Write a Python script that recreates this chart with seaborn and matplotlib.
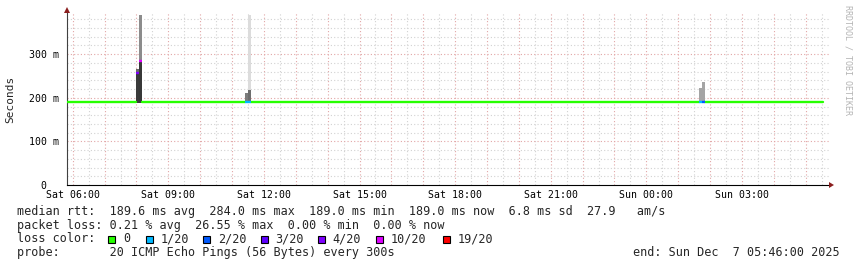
import numpy as np
import pandas as pd
import matplotlib
matplotlib.use("Agg")
import matplotlib.pyplot as plt
import seaborn as sns
from matplotlib.patches import Rectangle, Polygon

# ---------------- data ----------------
# minutes since Sat 00:00
seg_start_min = [346, 490, 695, 1550]
seg_end_min = [480, 685, 1540, 1772]
seg_rtt_ms = [189.4, 189.4, 189.4, 189.4]

spike_min = [480, 485, 685, 690, 1540, 1545]
spike_median_ms = [258, 285, 190, 190, 190, 190]
spike_loss = ["4/20", "10/20", "1/20", "1/20", "1/20", "2/20"]
smoke_lo_ms = [189, 189, 189, 189, 189, 189]
smoke_mid_ms = [258, 285, 210, 218, 222, 236]
smoke_hi_ms = [266, 390, 210, 390, 222, 236]
smoke_dense_col = ["#3a3a3a", "#383838", "#7c7c7c", "#6e6e6e", "#a4a4a4", "#a4a4a4"]
smoke_sparse_col = ["#6a6a6a", "#8c8c8c", "#7c7c7c", "#dcdcdc", "#a4a4a4", "#a4a4a4"]

loss_labels = ["0", "1/20", "2/20", "3/20", "4/20", "10/20", "19/20"]
loss_colors = ["#26ff00", "#00b8ff", "#0059ff", "#5e00ff", "#7e00ff", "#dd00ff", "#ff0000"]

xtick_hours = [6, 9, 12, 15, 18, 21, 24, 27]
xtick_labels = ["Sat 06:00", "Sat 09:00", "Sat 12:00", "Sat 15:00",
                "Sat 18:00", "Sat 21:00", "Sun 00:00", "Sun 03:00"]
ytick_vals = [0, 100, 200, 300]
ytick_labels = ["0", "100 m", "200 m", "300 m"]

legend_lines = [
    "median rtt:  189.6 ms avg  284.0 ms max  189.0 ms min  189.0 ms now  6.8 ms sd  27.9   am/s",
    "packet loss: 0.21 % avg  26.55 % max  0.00 % min  0.00 % now",
    "loss color:",
    "probe:       20 ICMP Echo Pings (56 Bytes) every 300s",
]
end_text = "end: Sun Dec  7 05:46:00 2025"
watermark = "RRDTOOL / TOBI OETIKER"

# ---------------- figure ----------------
W, H = 857, 267
sns.set_theme(style="white")
plt.rcParams['font.family'] = ['DejaVu Sans Mono', 'DejaVu Sans']

fig = plt.figure(figsize=(W / 100, H / 100), dpi=100, facecolor='white')
L, R, T, B = 67, 830, 12, 185
ax = fig.add_axes([L / W, 1 - B / H, (R - L) / W, (B - T) / H])
ax.set_facecolor('white')
x0 = 6 - 5.7 / 31.87
x1 = x0 + (R - L) / 31.87
ax.set_xlim(x0, x1)
ax.set_ylim(0, (B - T) / 0.436)

minor_c = '#d2d2d2'
major_c = '#e2a6a6'
dot = (0, (1, 2))
h = np.ceil(x0 * 2) / 2
while h < x1:
    is_major = abs(h - round(h)) < 1e-6
    ax.axvline(h, color=major_c if is_major else minor_c, ls=dot, lw=0.8, zorder=0.5)
    h += 0.5
for v in range(20, 400, 20):
    ax.axhline(v, color=major_c if v % 100 == 0 else minor_c, ls=dot, lw=0.8, zorder=0.5)

# smoke bars
t_h = np.array(spike_min) / 60.0
w = 5 / 60.0
ax.bar(t_h, np.array(smoke_hi_ms) - np.array(smoke_mid_ms), bottom=smoke_mid_ms,
       width=w, align='edge', color=smoke_sparse_col, linewidth=0, zorder=2)
ax.bar(t_h, np.array(smoke_mid_ms) - np.array(smoke_lo_ms), bottom=smoke_lo_ms,
       width=w, align='edge', color=smoke_dense_col, linewidth=0, zorder=2)

# median line segments (loss 0 -> green)
rows = []
for i, (s, e, r) in enumerate(zip(seg_start_min, seg_end_min, seg_rtt_ms)):
    rows.append({"t": s / 60.0, "rtt": r, "seg": i})
    rows.append({"t": e / 60.0, "rtt": r, "seg": i})
df = pd.DataFrame(rows)
sns.lineplot(data=df, x="t", y="rtt", units="seg", estimator=None, color=loss_colors[0],
             lw=1.7, ax=ax, legend=False, zorder=3)
cmap = dict(zip(loss_labels, loss_colors))
ax.hlines(spike_median_ms, t_h, t_h + w, colors=[cmap[l] for l in spike_loss], lw=1.7, zorder=3)

ax.set_xlabel("")
ax.set_ylabel("")
ax.set_xticks(xtick_hours)
ax.set_xticklabels(xtick_labels)
ax.set_yticks(ytick_vals)
# RRDtool aligns the unit-less zero with the digits of the other labels
ax.set_yticklabels([lab if " " in lab else lab + "  " for lab in ytick_labels])
ax.tick_params(axis='x', labelsize=7.1, pad=3.3, length=0, colors='black')
ax.tick_params(axis='y', labelsize=7.1, pad=5.5, length=0, colors='black')
for s in ['top', 'right']:
    ax.spines[s].set_visible(False)
for s in ['left', 'bottom']:
    ax.spines[s].set_color('black')
    ax.spines[s].set_linewidth(0.8)
ax.spines['left'].set_color('#404040')


def P(x, y):
    return (x / W, 1 - y / H)


arrow_c = '#8b1e1e'
fig.patches.append(Polygon([P(67, 7), P(64, 13), P(70, 13)], closed=True, transform=fig.transFigure,
                           facecolor=arrow_c, edgecolor='none', figure=fig))
fig.patches.append(Polygon([P(834, 185), P(829, 182), P(829, 188)], closed=True, transform=fig.transFigure,
                           facecolor=arrow_c, edgecolor='none', figure=fig))

fig.text(*P(10.5, 99.5), "Seconds", rotation=90, ha='center', va='center', fontsize=8)
fig.text(*P(848, 5), watermark, rotation=270, ha='center', va='top', fontsize=6, color='#b4b4b4')

fs = 8.43
line_y = [211.7, 225.2, 239, 252.8]
for txt, y in zip(legend_lines, line_y):
    fig.text(*P(16.7, y), txt, ha='left', va='center', fontsize=fs)
fig.text(*P(840, line_y[3]), end_text, ha='right', va='center', fontsize=fs)

box_x = [108.3, 145.7, 203.3, 261, 318.3, 376, 442.7]
for bx, lab, col in zip(box_x, loss_labels, loss_colors):
    fig.patches.append(Rectangle(P(bx, 242.5), 7 / W, 7 / H, transform=fig.transFigure,
                                 facecolor=col, edgecolor='black', lw=0.8, figure=fig))
    fig.text(*P(bx + 14.5, line_y[2]), lab, ha='left', va='center', fontsize=fs)

fig.savefig("out.png", dpi=100, facecolor='white')
